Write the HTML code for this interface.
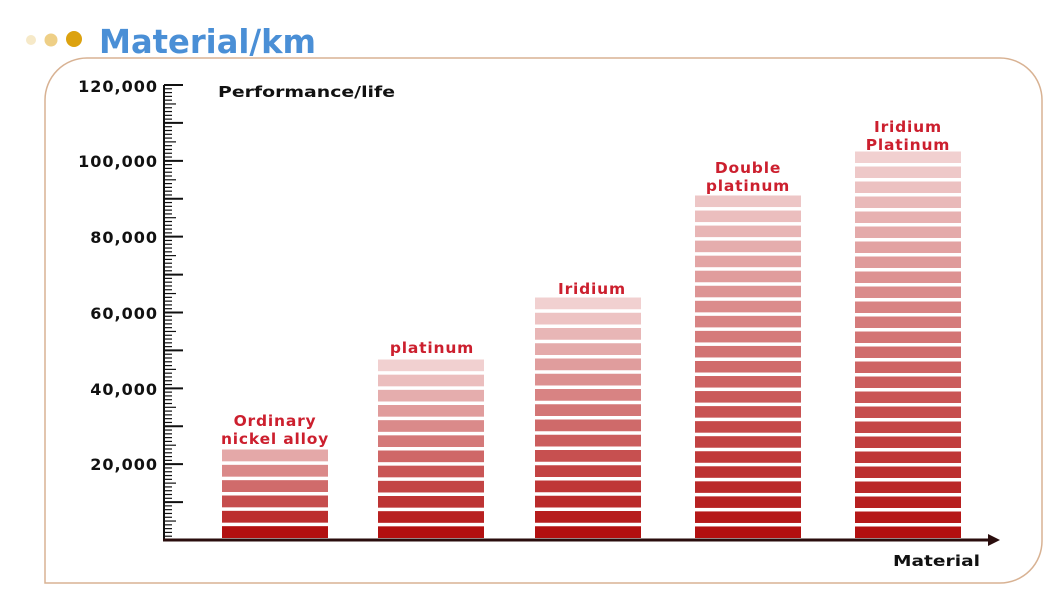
<!DOCTYPE html>
<html><head><meta charset="utf-8"><style>
html,body{margin:0;padding:0;background:#fff;}
body{width:1058px;height:595px;overflow:hidden;position:relative;font-family:"Liberation Sans","DejaVu Sans",sans-serif;}
</style></head><body>
<svg id="s" width="1058" height="595" xmlns="http://www.w3.org/2000/svg" font-family="'DejaVu Sans','Liberation Sans',sans-serif">
<circle cx="31" cy="40" r="5" fill="#f6e9c8"/>
<circle cx="51" cy="40" r="6.5" fill="#eecf86"/>
<circle cx="74" cy="39" r="8" fill="#dca20f"/>
<text x="99" y="53" font-size="33" font-weight="bold" fill="#4a8fd6" textLength="217" lengthAdjust="spacingAndGlyphs">Material/km</text>
<path d="M45,583 V100 A42,42 0 0 1 87,58 H1000 A42,42 0 0 1 1042,100 V541 A42,42 0 0 1 1000,583 Z" fill="none" stroke="#d8b293" stroke-width="1.5"/>
<g id="ticks"></g>
<line x1="164" y1="85" x2="164" y2="540" stroke="#111" stroke-width="2"/>
<line x1="163" y1="540" x2="990" y2="540" stroke="#2a0d0d" stroke-width="3"/>
<polygon points="988,534 1000,540 988,546" fill="#2a0d0d"/>
<g font-size="16" font-weight="bold" fill="#111" text-anchor="end" letter-spacing="1">
<text x="158" y="92">120,000</text>
<text x="158" y="167">100,000</text>
<text x="158" y="243">80,000</text>
<text x="158" y="319">60,000</text>
<text x="158" y="395">40,000</text>
<text x="158" y="470">20,000</text>
</g>
<text x="218" y="97" font-size="15" font-weight="bold" fill="#111" textLength="177" lengthAdjust="spacingAndGlyphs">Performance/life</text>
<text x="893" y="566" font-size="15" font-weight="bold" fill="#111" textLength="87" lengthAdjust="spacingAndGlyphs">Material</text>
<g id="bars"></g>
<g font-size="15.5" font-weight="bold" fill="#cc1f2e" text-anchor="middle" letter-spacing="0.8">
<text x="275" y="426">Ordinary</text><text x="275" y="444">nickel alloy</text>
<text x="432" y="353">platinum</text>
<text x="592" y="294">Iridium</text>
<text x="748" y="173">Double</text><text x="748" y="191">platinum</text>
<text x="908" y="132">Iridium</text><text x="908" y="150">Platinum</text>
</g>
</svg>
<script>
(function(){
var ns="http://www.w3.org/2000/svg";
var t=document.getElementById("ticks");
for(var i=0;i<=120;i++){var y=540-i*455/120;var major=i%10==0,mid=i%5==0;
var l=document.createElementNS(ns,"line");l.setAttribute("x1",164);l.setAttribute("x2",major?183:(mid?176:172));
l.setAttribute("y1",y);l.setAttribute("y2",y);l.setAttribute("stroke","#111");l.setAttribute("stroke-width",major?2:1.2);t.appendChild(l);}
var bars=[[222,448,0.75],[378,358,0.95],[535,296,0.95],[695,194,0.9],[855,150,0.95]];
var b=document.getElementById("bars");
var cb=[178,16,16],ct=[244,218,218];
bars.forEach(function(br){var x=br[0],ytop=br[1];var n=Math.round((540-ytop)/15.2);var p=(540-ytop)/n;
for(var k=0;k<n;k++){var y1=540-(k+1)*p;
var f=(k/(n-1))*br[2];
var c=cb.map(function(v,j){return Math.round(v+(ct[j]-v)*f);});
var r=document.createElementNS(ns,"rect");r.setAttribute("x",x);r.setAttribute("width",106);
r.setAttribute("y",y1+1.5);r.setAttribute("height",p-3.5);r.setAttribute("fill","rgb("+c.join(",")+")");b.appendChild(r);}
});
})();
</script>
</body></html>
